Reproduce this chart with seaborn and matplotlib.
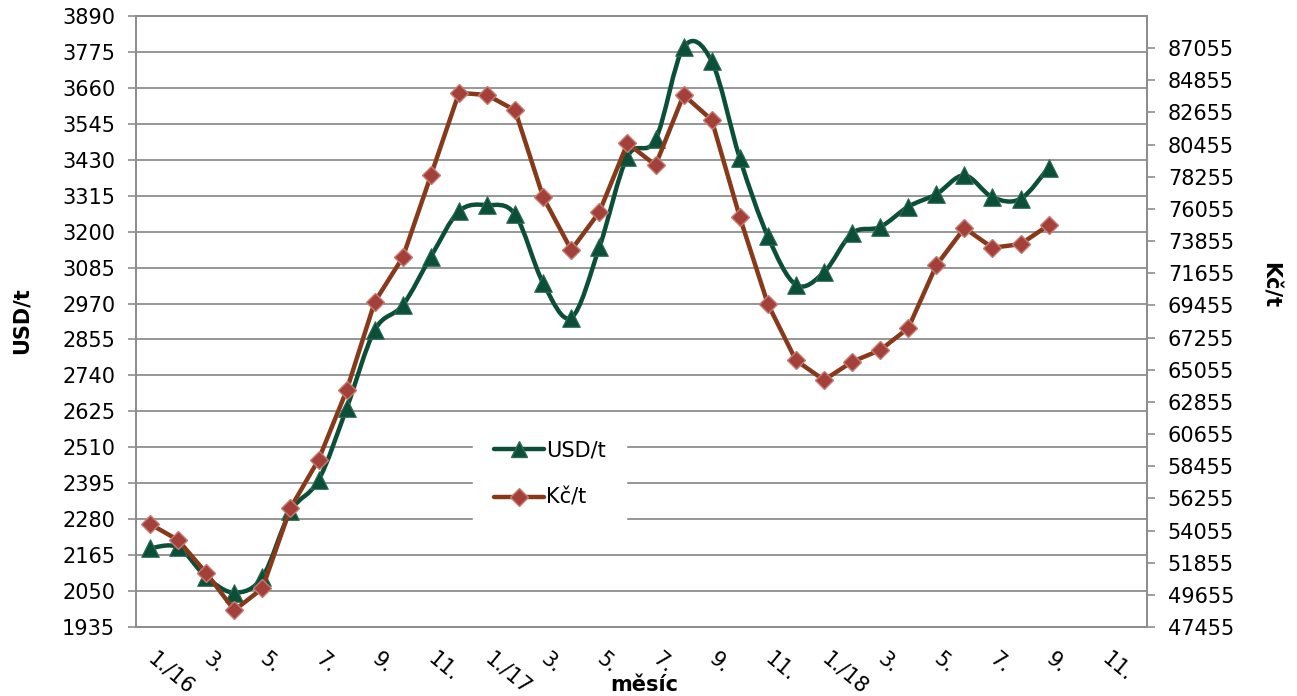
"""
USD/t and Kč/t monthly prices, 1/2016 - 9/2018
"""

import numpy as np
import matplotlib
matplotlib.use("Agg")
import matplotlib.pyplot as plt
from matplotlib.path import Path
from matplotlib.patches import PathPatch
from matplotlib.lines import Line2D
import seaborn as sns

# Data
usd_t = [2187, 2190, 2095, 2045, 2095, 2305, 2405, 2635, 2885, 2965, 3120,
         3265, 3285, 3255, 3035, 2925, 3150, 3440, 3495, 3790, 3745, 3435,
         3185, 3030, 3070, 3195, 3215, 3280, 3320, 3380, 3310, 3305, 3405]
kc_t = [54500, 53400, 51150, 48600, 50100, 55600, 58900, 63650, 69700, 72750,
        78350, 84000, 83850, 82800, 76850, 73250, 75850, 80550, 79050, 83850,
        82150, 75500, 69550, 65700, 64350, 65600, 66400, 67900, 72200, 74750,
        73400, 73650, 74950]
month_labels = ["1./16", "3.", "5.", "7.", "9.", "11.",
                "1./17", "3.", "5.", "7.", "9.", "11.",
                "1./18", "3.", "5.", "7.", "9.", "11."]
n_months = 36

usd_ticks = list(range(1935, 3891, 115))
kc_ticks = list(range(47455, 87056, 2200))

GREEN = "#0b4f38"
BROWN = "#87391a"
DIAMOND = "#a4403a"
GRID = "#8e8e8e"


def smooth_path(x, y):
    """Bezier path through the points (Excel style smoothed line)"""
    pts = np.column_stack([x, y]).astype(float)
    n = len(pts)
    verts = [pts[0]]
    codes = [Path.MOVETO]
    for i in range(n - 1):
        p0 = pts[i - 1] if i > 0 else pts[i]
        p1 = pts[i]
        p2 = pts[i + 1]
        p3 = pts[i + 2] if i + 2 < n else pts[i + 1]
        c1 = p1 + (p2 - p0) / 6.0
        c2 = p2 - (p3 - p1) / 6.0
        verts += [c1, c2, p2]
        codes += [Path.CURVE4] * 3
    return Path(verts, codes)


def main():
    sns.set_style("white")
    plt.rcParams["font.family"] = ["DejaVu Sans"]
    plt.rcParams["font.size"] = 15
    plt.rcParams["text.color"] = "black"
    plt.rcParams["xtick.labelcolor"] = "black"
    plt.rcParams["ytick.labelcolor"] = "black"

    fig = plt.figure(figsize=(12.97, 6.96), dpi=100)
    ax = fig.add_axes([0.1049, 0.0991, 0.7794, 0.8779])
    x = np.arange(len(usd_t))

    # USD/t - smoothed line with triangles
    ax.add_patch(PathPatch(smooth_path(x, usd_t), facecolor="none",
                           edgecolor=GREEN, lw=3.2, zorder=3))
    sns.scatterplot(x=x, y=usd_t, ax=ax, marker="^", s=160, color=GREEN,
                    edgecolor="#2d6b55", linewidth=0.8, zorder=4)

    ax.set_xlim(-0.5, n_months - 0.5)
    ax.set_ylim(1935, 3890)
    ax.set_yticks(usd_ticks)
    ax.yaxis.grid(True, color=GRID, lw=1.3)
    ax.set_axisbelow(True)
    ax.set_xticks(np.arange(0, n_months, 2))
    ax.set_xticklabels(month_labels, rotation=-40, ha="left", va="center",
                       rotation_mode="anchor", color="black")
    ax.set_xticks(np.arange(-0.5, n_months, 1), minor=True)
    ax.tick_params(axis="x", which="major", length=0, pad=21)
    ax.tick_params(axis="x", which="minor", length=6, color=GRID, width=1.2,
                   direction="out")
    ax.tick_params(axis="y", length=6, color=GRID, width=1.2,
                   direction="out", pad=9, labelcolor="black")
    ax.set_xlabel("")
    ax.set_ylabel("")
    for side in ["left", "bottom", "right", "top"]:
        ax.spines[side].set_color(GRID)
        ax.spines[side].set_linewidth(1.3)

    # Kč/t - straight line with diamonds, secondary axis
    ax2 = ax.twinx()
    sns.lineplot(x=x, y=kc_t, ax=ax2, color=BROWN, lw=3.2, marker="D",
                 markersize=9, markerfacecolor=DIAMOND,
                 markeredgecolor="#c77a74", markeredgewidth=1.0, zorder=5)
    ax2.set_ylim(47455, 89255)
    ax2.set_yticks(kc_ticks)
    ax2.tick_params(axis="y", length=6, color=GRID, width=1.2,
                    direction="out", pad=9, labelcolor="black")
    ax2.set_ylabel("")
    for side in ["left", "bottom", "right", "top"]:
        ax2.spines[side].set_color(GRID)
        ax2.spines[side].set_linewidth(1.3)

    # Legend
    handles = [
        Line2D([], [], color=GREEN, lw=3.2, marker="^", markersize=11,
               markerfacecolor=GREEN, markeredgecolor="#2d6b55"),
        Line2D([], [], color=BROWN, lw=3.2, marker="D", markersize=9,
               markerfacecolor=DIAMOND, markeredgecolor="#c77a74"),
    ]
    leg = ax2.legend(handles, ["USD/t", "Kč/t"], loc="center left",
                     bbox_to_anchor=(0.323, 0.25), frameon=True,
                     fancybox=False, edgecolor="white", framealpha=1,
                     handlelength=2.4, handletextpad=0.1, labelspacing=1.3,
                     borderpad=1.0, fontsize=15)
    leg.set_zorder(10)

    # Axis titles
    fig.text(0.017, 0.54, "USD/t", rotation=90, ha="center", va="center",
             fontsize=15, fontweight="bold", color="black")
    fig.text(0.979, 0.59, "Kč/t", rotation=270, ha="center", va="center",
             fontsize=15, fontweight="bold", color="black")
    fig.text(0.497, 0.016, "měsíc", ha="center", va="center",
             fontsize=15, fontweight="bold", color="black")

    fig.savefig("out.png", dpi=100)
    plt.close(fig)


if __name__ == "__main__":
    main()
